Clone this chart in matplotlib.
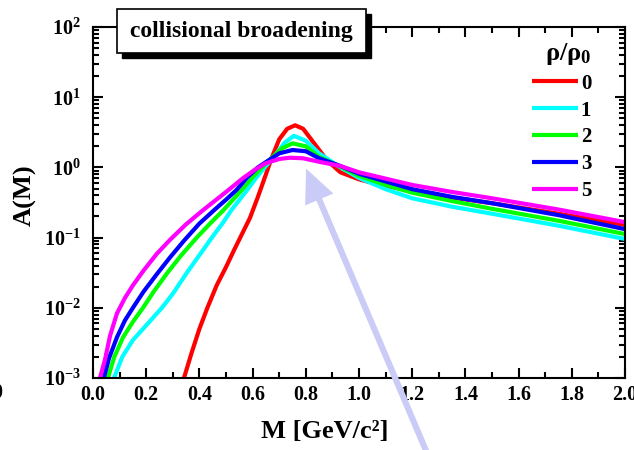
import numpy as np
import matplotlib
matplotlib.use('Agg')
import matplotlib.pyplot as plt
from matplotlib.patches import Rectangle, FancyArrowPatch
from matplotlib.ticker import LogLocator, MultipleLocator, NullFormatter

plt.rcParams['font.family'] = 'Liberation Serif'
plt.rcParams['font.weight'] = 'bold'
plt.rcParams['axes.labelweight'] = 'bold'
plt.rcParams['mathtext.fontset'] = 'custom'
plt.rcParams['mathtext.rm'] = 'Liberation Serif:bold'
plt.rcParams['mathtext.it'] = 'Liberation Serif:bold'
plt.rcParams['mathtext.bf'] = 'Liberation Serif:bold'

# spectral functions A(M) for different densities rho/rho0
# (mass in GeV/c^2, log10 of A)
m0 = [0.342, 0.37, 0.40, 0.43, 0.465, 0.50, 0.53, 0.56, 0.59, 0.62, 0.65,
      0.67, 0.70, 0.73, 0.76, 0.79, 0.82, 0.85, 0.88, 0.93, 1.0, 1.05, 1.1,
      1.2, 1.35, 1.5, 1.75, 2.0]
a0 = [-3.0, -2.65, -2.3, -2.0, -1.68, -1.42, -1.18, -0.95, -0.72, -0.42,
      -0.1, 0.12, 0.4, 0.55, 0.6, 0.55, 0.4, 0.25, 0.1, -0.07, -0.17, -0.22,
      -0.26, -0.34, -0.43, -0.51, -0.66, -0.82]

m1 = [0.079, 0.11, 0.15, 0.2, 0.259, 0.30, 0.353, 0.40, 0.447, 0.49, 0.52,
      0.58, 0.615, 0.65, 0.68, 0.72, 0.755, 0.80, 0.85, 0.93, 1.0, 1.1, 1.2,
      1.35, 1.5, 1.75, 2.0]
a1 = [-3.0, -2.7, -2.46, -2.25, -2.0, -1.8, -1.5, -1.25, -1.0, -0.78, -0.61,
      -0.32, -0.14, 0.02, 0.15, 0.35, 0.45, 0.38, 0.2, 0.0, -0.15, -0.31,
      -0.44, -0.56, -0.66, -0.83, -1.02]

m2 = [0.056, 0.08, 0.113, 0.15, 0.188, 0.23, 0.28, 0.33, 0.39, 0.44, 0.49,
      0.56, 0.6, 0.64, 0.67, 0.71, 0.75, 0.80, 0.85, 0.93, 1.0, 1.1, 1.2,
      1.35, 1.5, 1.75, 2.0]
a2 = [-3.0, -2.7, -2.42, -2.2, -2.0, -1.76, -1.5, -1.26, -1.0, -0.8, -0.61,
      -0.32, -0.14, 0.02, 0.13, 0.27, 0.343, 0.3, 0.15, 0.01, -0.12, -0.25,
      -0.36, -0.48, -0.59, -0.76, -0.95]

m3 = [0.041, 0.06, 0.09, 0.12, 0.15, 0.19, 0.24, 0.29, 0.343, 0.40, 0.458,
      0.50, 0.54, 0.58, 0.62, 0.66, 0.70, 0.75, 0.80, 0.85, 0.93, 1.0, 1.1,
      1.2, 1.35, 1.5, 1.75, 2.0]
a3 = [-3.0, -2.72, -2.42, -2.18, -2.0, -1.77, -1.52, -1.28, -1.04, -0.8,
      -0.6, -0.46, -0.32, -0.14, 0.0, 0.1, 0.2, 0.248, 0.23, 0.13, 0.02,
      -0.09, -0.2, -0.31, -0.42, -0.51, -0.68, -0.88]

m5 = [0.026, 0.045, 0.064, 0.09, 0.12, 0.15, 0.19, 0.24, 0.29, 0.35, 0.41,
      0.46, 0.51, 0.565, 0.61, 0.65, 0.70, 0.74, 0.79, 0.85, 0.93, 1.0, 1.1,
      1.2, 1.35, 1.5, 1.75, 2.0]
a5 = [-3.0, -2.74, -2.4, -2.08, -1.86, -1.68, -1.47, -1.23, -1.03, -0.81,
      -0.62, -0.47, -0.32, -0.15, -0.03, 0.06, 0.12, 0.138, 0.13, 0.08, 0.02,
      -0.07, -0.16, -0.25, -0.35, -0.44, -0.6, -0.78]

labels = ['0', '1', '2', '3', '5']
colors = ['#ff0000', '#00ffff', '#00ff00', '#0000ff', '#ff00ff']
yticks = [1e-3, 1e-2, 1e-1, 1e0, 1e1, 1e2]
yticklabels = [r'$10^{-3}$', r'$10^{-2}$', r'$10^{-1}$', r'$10^{0}$',
               r'$10^{1}$', r'$10^{2}$']

fig = plt.figure(figsize=(6.34, 4.5), dpi=100)
ax = fig.add_axes([93/634, 72/450, 532/634, 351/450])

for m, a, lab, c in zip([m0, m1, m2, m3, m5], [a0, a1, a2, a3, a5],
                        labels, colors):
    ax.plot(m, 10**np.array(a), color=c, lw=3, label=lab,
            solid_joinstyle='round', solid_capstyle='butt')

ax.set_yscale('log')
ax.set_xlim(0, 2.0)
ax.set_ylim(1e-3, 1e2)
ax.set_xticks(np.arange(0, 2.01, 0.2))
ax.set_xticklabels(['%.1f' % v for v in np.arange(0, 2.01, 0.2)])
ax.xaxis.set_minor_locator(MultipleLocator(0.1))
ax.set_yticks(yticks)
ax.set_yticklabels(yticklabels)
ax.yaxis.set_minor_locator(LogLocator(base=10, subs=np.arange(2, 10)))
ax.yaxis.set_minor_formatter(NullFormatter())
ax.tick_params(which='both', direction='in', top=True, right=True,
               width=1.5, labelsize=14.5)
ax.tick_params(which='major', length=7)
ax.tick_params(which='minor', length=4)
ax.tick_params(axis='x', pad=5)
ax.tick_params(axis='y', pad=9)
for s in ax.spines.values():
    s.set_linewidth(1.5)

ax.set_xlabel('M [GeV/c²]', fontsize=19)
ax.xaxis.set_label_coords(0.436, -0.12)
ax.set_ylabel('A(M)', fontsize=19)
ax.yaxis.set_label_coords(-0.105, 0.52)

leg = ax.legend(loc='upper right', bbox_to_anchor=(0.972, 1.014),
                frameon=False, fontsize=15, handlelength=2.2,
                handletextpad=0.15, labelspacing=0.33,
                title=r'$\rho/\rho_0$', title_fontsize=19,
                alignment='right')
for ln in leg.get_lines():
    ln.set_linewidth(3)

# title box with shadow
fig.patches.append(Rectangle((122/634, 1 - 58/450), 249/634, 44/450,
                             transform=fig.transFigure, facecolor='black',
                             edgecolor='black', zorder=5))
fig.patches.append(Rectangle((117/634, 1 - 53/450), 249/634, 44/450,
                             transform=fig.transFigure, facecolor='white',
                             edgecolor='black', lw=1.2, zorder=6))
fig.text(241/634, 1 - 31/450, 'collisional broadening', fontsize=17,
         ha='center', va='center', zorder=7)

# arrow pointing at the peak
arrow = FancyArrowPatch((430, -10), (305, 450 - 166), transform=None,
                        arrowstyle='simple,head_length=1.1,head_width=1.0,'
                                   'tail_width=0.2',
                        mutation_scale=22, color='#cbcbf7', lw=0,
                        zorder=4)
fig.patches.append(arrow)

# clipped label of neighbouring panel
fig.text(-0.012, 1 - 393/450, '0', fontsize=14.5, ha='left', va='center')

plt.savefig('out.png', dpi=100)
